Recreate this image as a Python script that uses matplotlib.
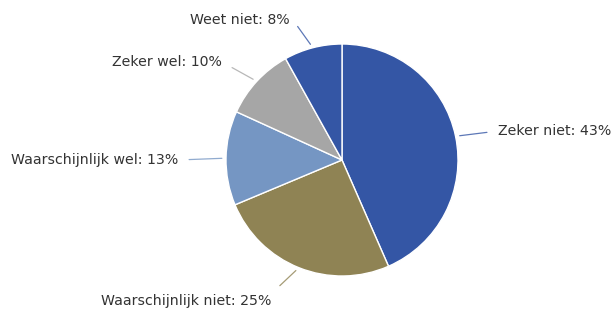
import numpy as np
import matplotlib
matplotlib.use("Agg")
from matplotlib import pyplot as plt

# Data
labels = ["Zeker niet", "Waarschijnlijk niet", "Waarschijnlijk wel", "Zeker wel", "Weet niet"]
values = [43, 25, 13, 10, 8]
colors = ["#3456a5", "#8f8354", "#7596c3", "#a6a6a6", "#3456a5"]

# Label text positions (layout, in pixel-like axes units, y up)
text_pos = [(498, 179), (271, 9), (178, 150), (222, 248), (290, 290)]
text_ha = ["left", "right", "right", "right", "right"]
rel_pos = [(0, 0.5), (1, 1.0), (1, 0.5), (1, 0.5), (1, 0.8)]

fig = plt.figure(figsize=(6.15, 3.1), dpi=100)
ax = fig.add_axes([0, 0, 1, 1])

cx, cy, r = 342, 150, 116
wedges, _ = ax.pie(values, colors=colors, startangle=90, counterclock=False,
                   center=(cx, cy), radius=r, frame=True,
                   wedgeprops=dict(edgecolor="white", linewidth=1.0))
ax.set_xlim(0, 615)
ax.set_ylim(0, 310)
ax.set_aspect("equal")
ax.axis("off")

for w, lab, v, tp, ha, rp, c in zip(wedges, labels, values, text_pos, text_ha, rel_pos, colors):
    ang = np.deg2rad((w.theta1 + w.theta2) / 2)
    px = cx + r * np.cos(ang)
    py = cy + r * np.sin(ang)
    ax.annotate(f"{lab}: {v}%", xy=(px, py), xytext=tp, ha=ha, va="center",
                fontsize=10.2, color="#333333",
                arrowprops=dict(arrowstyle="-", color=c, lw=0.9, alpha=0.8,
                                relpos=rp, shrinkA=6, shrinkB=3))

fig.savefig("out.png", dpi=100, facecolor="white")
